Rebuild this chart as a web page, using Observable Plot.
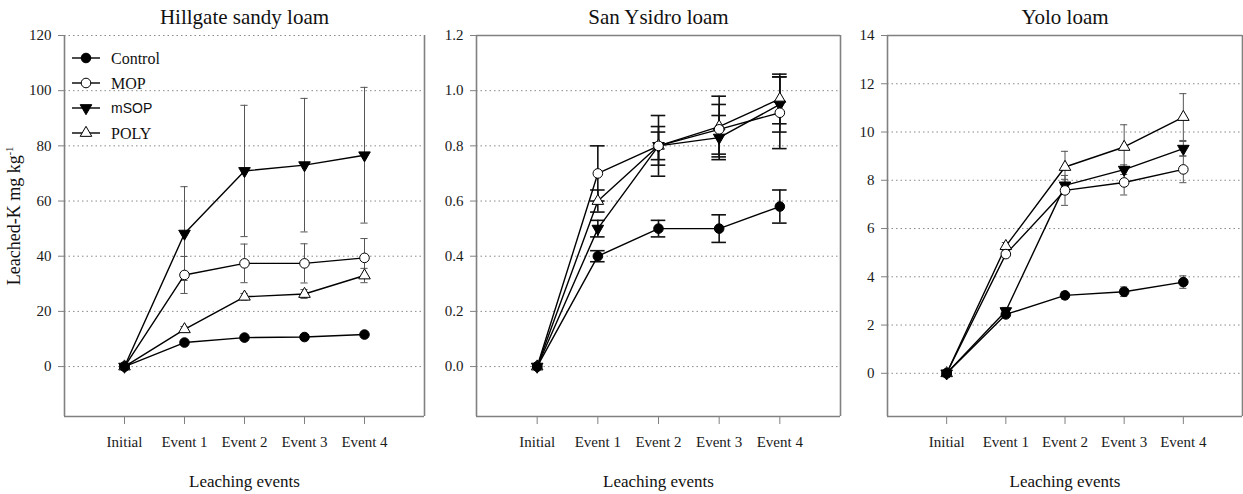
<!DOCTYPE html>
<html><head><meta charset="utf-8">
<script src="https://cdn.jsdelivr.net/npm/d3@7"></script>
<script src="https://cdn.jsdelivr.net/npm/@observablehq/plot@0.6"></script>
<style>
body{margin:0;background:#fff;}
#wrap{position:relative;width:1243px;height:494px;overflow:hidden;background:#fff;}
.panel{position:absolute;top:0;}
</style></head><body><div id="wrap"></div>
<script>
// ---- data ----
const events = ["Initial", "Event 1", "Event 2", "Event 3", "Event 4"];
const treatments = ["Control", "MOP", "mSOP", "POLY"];
const titles = ["Hillgate sandy loam", "San Ysidro loam", "Yolo loam"];
const xLabel = "Leaching events";
const yLabel = "Leached-K mg kg";

// Hillgate sandy loam
const hillControl = [0, 8.7, 10.5, 10.7, 11.6];
const hillControlErr = [0, 0.8, 0.8, 0.8, 0.8];
const hillMOP = [0, 33.2, 37.4, 37.4, 39.4];
const hillMOPErr = [0, 6.7, 7.0, 7.1, 7.0];
const hillMSOP = [0, 48.2, 70.9, 73.0, 76.6];
const hillMSOPErr = [0, 17.0, 23.8, 24.2, 24.6];
const hillPOLY = [0, 13.5, 25.3, 26.3, 33.0];
const hillPOLYErr = [0, 1.0, 1.2, 1.6, 2.6];
const hillTicks = [0, 20, 40, 60, 80, 100, 120];

// San Ysidro loam
const sanControl = [0, 0.40, 0.50, 0.50, 0.58];
const sanControlErr = [0, 0.02, 0.03, 0.05, 0.06];
const sanMOP = [0, 0.70, 0.80, 0.86, 0.92];
const sanMOPErr = [0, 0.10, 0.07, 0.09, 0.13];
const sanMSOP = [0, 0.50, 0.80, 0.83, 0.95];
const sanMSOPErr = [0, 0.03, 0.05, 0.08, 0.10];
const sanPOLY = [0, 0.60, 0.80, 0.87, 0.97];
const sanPOLYErr = [0, 0.04, 0.11, 0.11, 0.09];
const sanTicks = [0, 0.2, 0.4, 0.6, 0.8, 1.0, 1.2];

// Yolo loam
const yoloControl = [0, 2.44, 3.23, 3.38, 3.78];
const yoloControlErr = [0, 0.12, 0.15, 0.2, 0.26];
const yoloMOP = [0, 4.94, 7.58, 7.91, 8.45];
const yoloMOPErr = [0, 0.15, 0.62, 0.52, 0.55];
const yoloMSOP = [0, 2.58, 7.79, 8.44, 9.31];
const yoloMSOPErr = [0, 0.15, 0.25, 0.2, 0.3];
const yoloPOLY = [0, 5.27, 8.55, 9.38, 10.62];
const yoloPOLYErr = [0, 0.15, 0.65, 0.92, 0.97];
const yoloTicks = [0, 2, 4, 6, 8, 10, 12, 14];

// ---- styles ----
const markerStyle = {
  Control: {symbol: "circle", fill: "black", r: 4.8, rotate: 0},
  MOP: {symbol: "circle", fill: "white", r: 4.8, rotate: 0},
  mSOP: {symbol: "triangle", fill: "black", r: 4.3, rotate: 180},
  POLY: {symbol: "triangle", fill: "white", r: 4.3, rotate: 0}
};
const serif = "'Liberation Serif', 'Times New Roman', serif";
const sans = "'Liberation Sans', Arial, sans-serif";

function rows(vals, errs) {
  const out = [];
  treatments.forEach((t, k) => {
    vals[k].forEach((v, i) => out.push({treatment: t, x: i, y: v, err: errs[k][i], lo: v - errs[k][i], hi: v + errs[k][i]}));
  });
  return out;
}

const panels = [
  {title: titles[0], left: 0, width: 426, ml: 64, mr: 2, domain: [-18.1, 120], ticks: hillTicks, fmt: d3.format("d"),
   top: false, data: rows([hillControl, hillMOP, hillMSOP, hillPOLY], [hillControlErr, hillMOPErr, hillMSOPErr, hillPOLYErr]),
   errColor: "#555", errWidth: 1, cap: 0.06, legend: true},
  {title: titles[1], left: 426, width: 416, ml: 50, mr: 2, domain: [-0.181, 1.2], ticks: sanTicks, fmt: d3.format(".1f"),
   top: true, data: rows([sanControl, sanMOP, sanMSOP, sanPOLY], [sanControlErr, sanMOPErr, sanMSOPErr, sanPOLYErr]),
   errColor: "#111", errWidth: 1.6, cap: 0.12, legend: false},
  {title: titles[2], left: 842, width: 401, ml: 45, mr: 1, domain: [-1.79, 14], ticks: yoloTicks, fmt: d3.format("d"),
   top: true, data: rows([yoloControl, yoloMOP, yoloMSOP, yoloPOLY], [yoloControlErr, yoloMOPErr, yoloMSOPErr, yoloPOLYErr]),
   errColor: "#555", errWidth: 1, cap: 0.06, legend: false}
];

const wrap = document.getElementById("wrap");
const frameColor = "#808080";

panels.forEach((p, idx) => {
  const errs = p.data.filter(d => d.err > 0);
  const marks = [
    Plot.gridY(p.ticks, {stroke: "#8a8a8a", strokeOpacity: 1, strokeWidth: 1, strokeDasharray: "1.5,3"}),
    Plot.ruleX([-1], {stroke: frameColor, strokeWidth: 1.6}),
    Plot.ruleX([5], {stroke: frameColor, strokeWidth: 1.6}),
    Plot.ruleY([p.domain[0]], {stroke: frameColor, strokeWidth: 1.6}),
    p.top ? Plot.ruleY([p.domain[1]], {stroke: frameColor, strokeWidth: 1.6}) : null,
    Plot.axisY(p.ticks, {tickSize: 6, tickPadding: 7, tickFormat: p.fmt, fontSize: 15, stroke: frameColor, fill: "#1a1a1a", label: null}),
    Plot.axisX([0, 1, 2, 3, 4], {tickSize: 8, tickPadding: 12, tickFormat: i => events[i], fontSize: 15, stroke: frameColor, fill: "#1a1a1a", label: null}),
    Plot.ruleX(errs, {x: "x", y1: "lo", y2: "hi", stroke: p.errColor, strokeWidth: p.errWidth}),
    Plot.ruleY(errs, {y: "hi", x1: d => d.x - p.cap, x2: d => d.x + p.cap, stroke: p.errColor, strokeWidth: p.errWidth}),
    Plot.ruleY(errs, {y: "lo", x1: d => d.x - p.cap, x2: d => d.x + p.cap, stroke: p.errColor, strokeWidth: p.errWidth}),
    Plot.line(p.data, {x: "x", y: "y", z: "treatment", stroke: "black", strokeWidth: 1.4}),
    ...treatments.slice().reverse().map(t => {
      const s = markerStyle[t];
      return Plot.dot(p.data.filter(d => d.treatment === t), {x: "x", y: "y", symbol: s.symbol, r: s.r, fill: s.fill, stroke: "black", strokeWidth: 1, rotate: s.rotate});
    }),
    Plot.text([p.title], {frameAnchor: "top", dy: -18, fontSize: 21, lineAnchor: "middle", fill: "#111"}),
    Plot.text([xLabel], {frameAnchor: "bottom", dy: 65, fontSize: 17, lineAnchor: "middle", fill: "#111"})
  ].filter(Boolean);

  const chart = Plot.plot({
    width: p.width, height: 494,
    marginLeft: p.ml, marginRight: p.mr, marginTop: 35, marginBottom: 78,
    x: {domain: [-1, 5]},
    y: {domain: p.domain},
    style: {fontFamily: serif, fontSize: "15px", background: "transparent", overflow: "visible"},
    marks
  });
  const div = document.createElement("div");
  div.className = "panel";
  div.style.left = p.left + "px";
  div.appendChild(chart);
  wrap.appendChild(div);

  if (idx === 0) {
    const svg = d3.select(chart);
    // y-axis label
    const yl = svg.append("text")
      .attr("transform", "translate(20,216) rotate(-90)")
      .style("text-anchor", "middle")
      .style("font-family", serif).style("font-size", "18px").attr("fill", "#111");
    yl.append("tspan").text(yLabel);
    yl.append("tspan").attr("dy", -7).style("font-size", "10px").text("-1");
    // legend
    const lg = svg.append("g").style("text-anchor", "start");
    treatments.forEach((t, i) => {
      const y = 58 + 25 * i;
      const s = markerStyle[t];
      lg.append("line").attr("x1", 72).attr("x2", 100).attr("y1", y).attr("y2", y).attr("stroke", "black").attr("stroke-width", 1.4);
      const sym = s.symbol === "circle" ? d3.symbolCircle : d3.symbolTriangle;
      lg.append("path").attr("d", d3.symbol(sym, Math.PI * s.r * s.r)())
        .attr("transform", `translate(86,${y}) rotate(${s.rotate})`)
        .attr("fill", s.fill).attr("stroke", "black").attr("stroke-width", 1);
      lg.append("text").attr("x", 111).attr("y", y).attr("dy", "0.35em")
        .style("text-anchor", "start")
        .style("font-family", t === "mSOP" ? sans : serif)
        .style("font-size", t === "mSOP" ? "14px" : "16px").attr("fill", "#111").text(t);
    });
  }
});
</script>
</body></html>
